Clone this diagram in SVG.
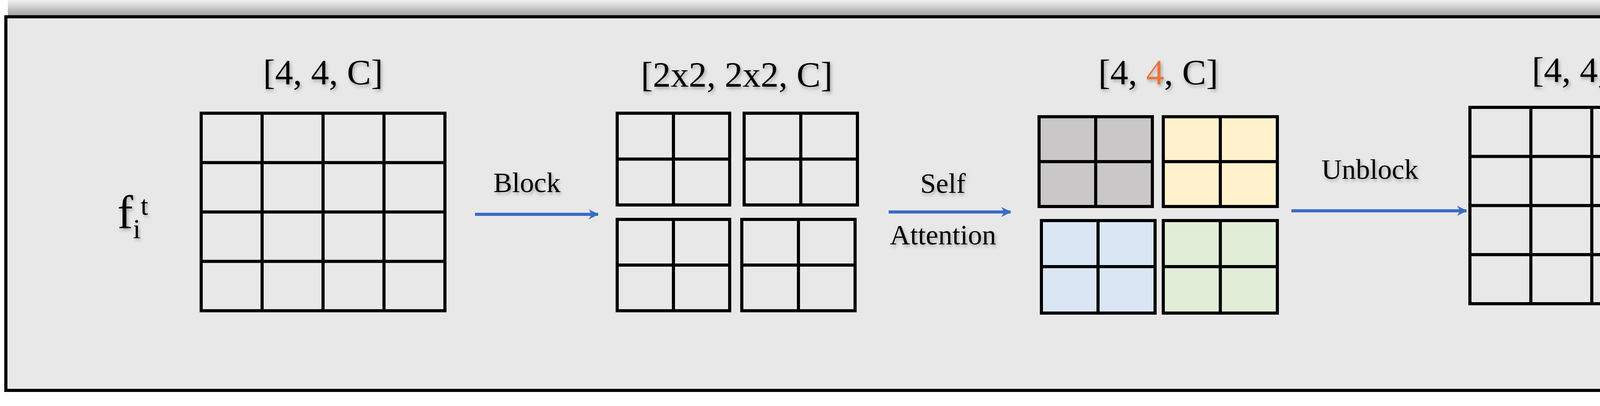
<svg xmlns="http://www.w3.org/2000/svg" width="4840" height="1040" viewBox="0 0 4840 1040">
<defs>
<linearGradient id="sh" x1="0" y1="0" x2="0" y2="1"><stop offset="0" stop-color="#f2f2f2"/><stop offset="1" stop-color="#9a9a9a"/></linearGradient>
<marker id="ah" viewBox="0 0 30 30" refX="26" refY="15" markerWidth="30" markerHeight="30" markerUnits="userSpaceOnUse" orient="auto"><path d="M2,2 L28,15 L2,28 L10,15 Z" fill="#3a6cc4"/></marker>
<filter id="ts" x="-10%" y="-10%" width="130%" height="140%"><feDropShadow dx="3" dy="5" stdDeviation="4" flood-color="#000" flood-opacity="0.3"/></filter>
<style>
.t{font-family:"Liberation Serif","Times New Roman",serif;fill:#000;text-anchor:middle;filter:url(#ts)}
.g{fill:none;stroke:#000;stroke-width:8}
.c{stroke:#000;stroke-width:8}
.a{stroke:#3a6cc4;stroke-width:8;fill:none;marker-end:url(#ah)}
.gray{fill:#c9c7c8}.yel{fill:#fff2cc}.blu{fill:#dae6f3}.grn{fill:#e2edd8}
</style>
</defs>
<rect x="20" y="0" width="4800" height="44" fill="url(#sh)"/>
<rect x="15" y="43" width="4791" height="957" fill="#e8e8e8" stroke="#000" stroke-width="8"/>
<g id="input">
<text class="t" x="340" y="585" font-size="120">f<tspan font-size="70" dy="25">i</tspan><tspan font-size="70" dy="-60">t</tspan></text>
</g>
<g id="grid1">
<text class="t" x="827" y="216" font-size="92">[4, 4, C]</text>
<rect class="g" x="515" y="290" width="624" height="506"/>
<path class="c" d="M671,290V796M827,290V796M983,290V796M515,416.5H1139M515,543H1139M515,669.5H1139"/>
</g>
<g id="grid2">
<text class="t" x="1886" y="222" font-size="92">[2x2, 2x2, C]</text>
<rect class="g" x="1580" y="290" width="288" height="235"/><path class="c" d="M1724,290V525M1580,407.5H1868"/>
<rect class="g" x="1905" y="290" width="290" height="235"/><path class="c" d="M2050,290V525M1905,407.5H2195"/>
<rect class="g" x="1580" y="562" width="288" height="234"/><path class="c" d="M1724,562V796M1580,679H1868"/>
<rect class="g" x="1899" y="562" width="290" height="234"/><path class="c" d="M2044,562V796M1899,679H2189"/>
</g>
<g id="grid3">
<text class="t" x="2965" y="216" font-size="92">[4, <tspan fill="#e8743b">4</tspan>, C]</text>
<rect class="g gray" x="2660" y="299" width="290" height="230"/><path class="c" d="M2805,299V529M2660,414H2950"/>
<rect class="g yel" x="2978" y="299" width="292" height="230"/><path class="c" d="M3124,299V529M2978,414H3270"/>
<rect class="g blu" x="2666" y="565" width="291" height="237"/><path class="c" d="M2811,565V802M2666,683H2957"/>
<rect class="g grn" x="2978" y="565" width="292" height="237"/><path class="c" d="M3124,565V802M2978,683H3270"/>
</g>
<g id="grid4">
<text class="t" x="4075" y="210" font-size="92">[4, 4, C]</text>
<rect class="g" x="3763" y="275" width="624" height="503"/>
<path class="c" d="M3919,275V778M4075,275V778M4231,275V778M3763,400.75H4387M3763,526.5H4387M3763,652.25H4387"/>
</g>
<g id="connectors">
<line class="a" x1="1216" y1="549" x2="1531" y2="549"/>
<text class="t" x="1349" y="492" font-size="72">Block</text>
<line class="a" x1="2275" y1="543" x2="2587" y2="543"/>
<text class="t" x="2414" y="494" font-size="72">Self</text>
<text class="t" x="2414" y="626" font-size="72">Attention</text>
<line class="a" x1="3306" y1="540" x2="3754" y2="540"/>
<text class="t" x="3507" y="458" font-size="72">Unblock</text>
<line class="a" x1="4427" y1="522" x2="4739" y2="522"/>
</g>
</svg>
